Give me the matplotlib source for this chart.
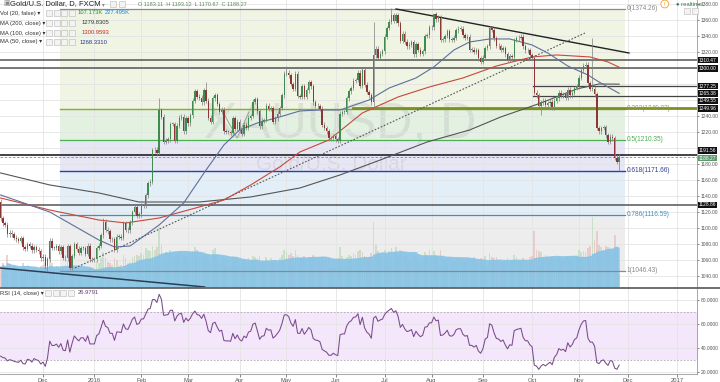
import numpy as np
import pandas as pd
import matplotlib
matplotlib.use("Agg")
import matplotlib.pyplot as plt
from matplotlib.patches import Rectangle
from matplotlib.lines import Line2D

plt.rcParams['font.family'] = ['Liberation Sans', 'DejaVu Sans']

# ---- XAUUSD daily closes, 4 Nov 2015 .. 25 Nov 2016 ----
nov15 = [1112, 1106, 1104, 1092, 1094, 1092, 1088, 1086, 1084, 1087, 1076, 1074, 1080, 1078, 1072, 1076, 1073, 1071, 1062]
dec15 = [1064, 1052, 1061, 1084, 1075, 1075, 1077, 1071, 1076, 1063, 1062, 1077, 1050, 1065, 1080, 1074, 1069, 1075, 1075, 1068, 1078, 1061, 1061]
jan16 = [1061, 1075, 1078, 1091, 1108, 1098, 1096, 1086, 1086, 1073, 1089, 1089, 1088, 1106, 1098, 1097, 1107, 1120, 1126, 1115, 1117]
feb16 = [1128, 1128, 1141, 1156, 1158, 1197, 1198, 1194, 1247, 1239, 1208, 1209, 1211, 1230, 1230, 1209, 1228, 1238, 1239, 1221, 1237]
mar16 = [1231, 1241, 1259, 1271, 1264, 1263, 1257, 1272, 1259, 1238, 1233, 1262, 1266, 1255, 1245, 1248, 1221, 1220, 1220, 1219, 1237, 1224, 1233]
apr16 = [1222, 1218, 1229, 1225, 1238, 1240, 1258, 1261, 1246, 1227, 1234, 1235, 1253, 1249, 1250, 1233, 1237, 1243, 1250, 1266, 1293]
may16 = [1294, 1291, 1280, 1274, 1293, 1265, 1264, 1277, 1264, 1272, 1282, 1277, 1257, 1253, 1252, 1249, 1229, 1225, 1221, 1212, 1212, 1215]
jun16 = [1211, 1209, 1243, 1245, 1245, 1262, 1271, 1275, 1284, 1285, 1294, 1278, 1298, 1279, 1270, 1266, 1257, 1316, 1324, 1313, 1318, 1321]
jul16 = [1339, 1350, 1358, 1366, 1359, 1366, 1356, 1334, 1343, 1333, 1327, 1329, 1332, 1317, 1330, 1323, 1318, 1321, 1340, 1341, 1351]
aug16 = [1351, 1367, 1361, 1363, 1335, 1336, 1340, 1346, 1336, 1335, 1338, 1347, 1349, 1349, 1341, 1338, 1339, 1323, 1323, 1320, 1322, 1312, 1308]
sep16 = [1313, 1325, 1327, 1350, 1348, 1337, 1328, 1327, 1323, 1325, 1317, 1310, 1315, 1314, 1335, 1337, 1338, 1339, 1327, 1322, 1322, 1316]
oct16 = [1313, 1269, 1266, 1253, 1257, 1259, 1254, 1256, 1258, 1251, 1259, 1262, 1269, 1266, 1267, 1263, 1273, 1266, 1269, 1275, 1277]
nov16 = [1288, 1297, 1303, 1304, 1281, 1274, 1274, 1267, 1225, 1221, 1225, 1226, 1216, 1208, 1214, 1212, 1188, 1183.11, 1188.27]
closes = nov15 + dec15 + jan16 + feb16 + mar16 + apr16 + may16 + jun16 + jul16 + aug16 + sep16 + oct16 + nov16

first_open = 1132
last_high, last_low = 1193.12, 1170.67
wick = 3
# bars with long shadows
high_marks = {'2015-11-04': 1136, '2016-01-07': 1112, '2016-02-11': 1263, '2016-03-11': 1283,
              '2016-05-02': 1303, '2016-06-24': 1358, '2016-07-06': 1375, '2016-08-02': 1368,
              '2016-09-06': 1352, '2016-11-09': 1337}
low_marks = {'2015-12-03': 1046.4, '2015-12-17': 1047, '2016-06-24': 1250, '2016-10-07': 1241}

# volume, thousands
vol = ([170, 190, 160, 260, 170, 150, 160, 150, 140, 160, 190, 170, 180, 150, 140, 150, 130, 90, 170]
       + [180, 200, 230, 280, 190, 160, 170, 150, 160, 170, 180, 210, 240, 190, 150, 140, 130, 90, 40, 110, 140, 150, 100]
       + [60, 210, 190, 230, 280, 230, 200, 190, 180, 230, 220, 170, 180, 260, 230, 190, 200, 240, 250, 260, 250]
       + [270, 260, 310, 300, 290, 330, 300, 320, 480, 340, 260, 280, 270, 300, 240, 250, 260, 280, 270, 260, 250]
       + [240, 260, 290, 320, 300, 260, 250, 280, 270, 230, 220, 300, 310, 240, 200, 210, 230, 210, 170, 180, 240, 220, 230]
       + [200, 190, 210, 200, 230, 220, 250, 240, 230, 250, 210, 200, 240, 220, 230, 210, 190, 200, 230, 260, 300]
       + [280, 260, 270, 250, 300, 260, 230, 240, 250, 220, 240, 230, 260, 240, 210, 200, 240, 220, 210, 230, 150, 220]
       + [210, 230, 320, 250, 220, 240, 260, 250, 270, 260, 290, 300, 280, 250, 230, 240, 270, 520, 340, 290, 270, 280]
       + [300, 240, 290, 310, 250, 320, 260, 300, 270, 250, 240, 220, 230, 250, 240, 220, 210, 230, 280, 260, 300]
       + [250, 290, 260, 240, 300, 230, 220, 230, 240, 210, 200, 220, 240, 230, 220, 200, 210, 230, 220, 240, 200, 220, 230]
       + [220, 250, 150, 270, 240, 230, 240, 220, 210, 200, 220, 230, 200, 210, 260, 240, 220, 200, 230, 220, 210, 240]
       + [250, 450, 300, 290, 280, 240, 260, 230, 240, 250, 230, 240, 230, 220, 210, 230, 240, 220, 230, 250, 240]
       + [300, 280, 290, 280, 310, 330, 560, 380, 450, 340, 320, 300, 330, 320, 280, 260, 420, 300, 107.173])

# moving averages (bar index, value) as drawn on the chart
ma50_i = [0, 22, 44, 51, 58, 71, 82, 92, 100, 107, 115, 125, 134, 143, 152, 165, 174, 186, 194, 203, 210, 219, 228, 238, 245, 254, 263, 268, 277]
ma50_v = [1141.3, 1120.0, 1085.0, 1076.3, 1077.5, 1103.8, 1131.3, 1172.5, 1203.8, 1222.5, 1231.3, 1238.8, 1246.3, 1247.5,
          1247.5, 1260.0, 1275.0, 1287.5, 1301.3, 1322.5, 1332.5, 1336.3, 1336.3, 1328.8, 1318.8, 1302.5, 1291.3, 1282.5, 1268.3]
ma100_i = [0, 22, 44, 56, 71, 89, 100, 112, 125, 134, 147, 162, 178, 192, 207, 222, 238, 249, 264, 272, 277]
ma100_v = [1137.5, 1122.5, 1110.0, 1106.3, 1112.5, 1126.3, 1135.0, 1153.8, 1176.3, 1195.0, 1210.0, 1243.8, 1263.8, 1276.3,
           1287.5, 1302.5, 1313.8, 1316.3, 1313.8, 1307.5, 1301.0]
ma200_i = [0, 22, 44, 62, 89, 112, 134, 152, 170, 191, 210, 224, 242, 258, 268, 277]
ma200_v = [1168.8, 1153.8, 1143.8, 1132.5, 1132.5, 1138.8, 1150.0, 1166.3, 1185.0, 1207.5, 1222.5, 1238.8, 1256.3,
           1273.8, 1280.0, 1279.8]

# drawings
fib_top, fib_bot = 1374.26, 1046.43
fib_ratios = [0, 0.382, 0.5, 0.618, 0.786, 1]
full_levels = [1310.47, 1300.00, 1191.56, 1128.86]
oct_levels = [1277.25, 1265.38]
thick_level = 1249.96
last_close = 1188.27

# ---- derived ----
dates = pd.bdate_range('2015-11-04', '2016-11-25')
n = len(dates)
idx = np.arange(n)
c = np.array(closes, float)
o = np.r_[first_open, c[:-1]]
h = np.maximum(o, c) + wick
l = np.minimum(o, c) - wick
for d, v in high_marks.items():
    h[dates.get_loc(pd.Timestamp(d))] = v
for d, v in low_marks.items():
    l[dates.get_loc(pd.Timestamp(d))] = v
h[-1], l[-1] = last_high, last_low
up = c >= o

# RSI 14 (Wilder)
d = np.diff(np.r_[first_open, c])
ag, al = 4.5, 7.5
rsi = []
for x in d:
    ag = (ag * 13 + max(x, 0)) / 14
    al = (al * 13 + max(-x, 0)) / 14
    rsi.append(100 - 100 / (1 + ag / al))

vol_ma = pd.Series(vol).rolling(20, min_periods=1).mean()

ext = pd.bdate_range('2015-11-04', '2017-01-31')
mpos, mlab = [], []
for i in range(1, len(ext)):
    if ext[i].month != ext[i - 1].month:
        mpos.append(i)
        mlab.append(str(ext[i].year) if ext[i].month == 1 else ext[i].strftime('%b'))

# ---- figure ----
W, H = 720, 382
fig = plt.figure(figsize=(7.2, 3.82), dpi=100)
fig.patch.set_facecolor('white')


def fy(y):
    return 1 - y / H


xlim = (-0.27, 311.86)
ax = fig.add_axes([0, fy(287), 697 / W, 287 / H])
ax.set_xlim(xlim)
ax.set_ylim(1026.25, 1385)
ax_v = ax.twinx()
ax_v.set_ylim(0, 2300)
ax_v.axis('off')
axc = ax.twinx()
axc.set_ylim(ax.get_ylim())
axc.axis('off')
ax.yaxis.tick_right()

grid_c = '#e4e4e4'
yt = np.arange(1040, 1381, 20)
hidden = {1200, 1260, 1280, 1300}  # covered by the level tags
ax.set_xticks(mpos)
ax.set_yticks(yt)
ax.set_yticklabels(['' if v in hidden else '%.2f' % v for v in yt])
ax.grid(True, color=grid_c, lw=0.6)
ax.tick_params(axis='x', length=0, labelbottom=False)
ax.tick_params(axis='y', labelsize=3.5, colors='#555', length=1.5, width=0.5, pad=1)
for s in ['top', 'left', 'bottom']:
    ax.spines[s].set_visible(False)
ax.spines['right'].set_color('#999')
ax.spines['right'].set_linewidth(0.6)

# fibonacci bands
fx0, fx1 = 26.6, 279.6
band_cols = ['#eff5e2', '#e2f1e0', '#e7e6f7', '#e3eff8', '#ededed']
fp = [fib_top - r * (fib_top - fib_bot) for r in fib_ratios]
for k in range(5):
    ax.add_patch(Rectangle((fx0, fp[k + 1]), fx1 - fx0, fp[k] - fp[k + 1], fc=band_cols[k], lw=0, zorder=0))
fib_cols = ['#8a8a8a', '#8fa536', '#4caf50', '#2f3f9e', '#3595c6', '#8a8a8a']
for r, p, col in zip(fib_ratios, fp, fib_cols):
    axc.plot([fx0, fx1], [p, p], color=col, lw=1.0 if r in (0.382, 0.618) else 0.9, zorder=4)
    axc.text(280.3, p, '%g(%.2f)' % (r, p), color=col, fontsize=4.7, va='center', ha='left', zorder=6)

# watermark
ax.text(152, 1228, 'XAUUSD, D', fontsize=36, color='#9a9a9a', alpha=0.2, ha='center', va='center', zorder=0.6)
ax.text(148, 1180, 'Gold/U.S. Dollar', fontsize=15, color='#9a9a9a', alpha=0.2, ha='center', va='center', zorder=0.6)

# volume
ax_v.bar(idx, vol, width=0.75, color=np.where(up, '#b5d8b2', '#e6b5b5'), alpha=0.6, lw=0)
ax_v.fill_between(idx, 0, vol_ma, step='mid', color='#86c3e6', alpha=0.9, lw=0)

# horizontal levels
for p in full_levels:
    axc.axhline(p, color='#111' if p == 1191.56 else '#555', lw=1.1, zorder=4)
for p in oct_levels:
    axc.plot([238.4, xlim[1]], [p, p], color='#444', lw=0.9, zorder=4)
axc.plot([157.8, xlim[1]], [thick_level, thick_level], color='#7c8f28', lw=2.0, zorder=4)
axc.axhline(last_close, color='#888', lw=0.6, ls=(0, (3, 2)), zorder=4)

# trend lines
axc.plot([177.1, 281.4], [1373.75, 1318.75], color='#222', lw=1.0, zorder=5)
axc.plot([33.3, 261.7], [1050, 1343.75], color='#555', lw=0.8, ls=(0, (1.5, 1.5)), zorder=5)
axc.plot([-0.3, 91.3], [1050, 1026.3], color='#2c3e55', lw=1.1, zorder=5)
axc.plot([99.6, 105.9, 111.2], [1245, 1212.5, 1245], color='#a0a0a0', lw=0.7, zorder=4)

# moving averages
axc.plot(ma200_i, ma200_v, color='#555555', lw=0.8, zorder=5)
axc.plot(ma100_i, ma100_v, color='#c9473c', lw=0.8, zorder=5)
axc.plot(ma50_i, ma50_v, color='#5d6f9e', lw=0.8, zorder=5)

# candles
axc.vlines(idx, l, h, colors='#808080', lw=0.5, zorder=6)
axc.bar(idx, np.maximum(np.abs(c - o), 0.7), bottom=np.minimum(o, c), width=0.62,
        color=np.where(up, '#3f8b50', '#8e3535'), lw=0, zorder=7)

# ---- RSI pane ----
ax2 = fig.add_axes([0, fy(374), 697 / W, (374 - 289) / H])
ax2.set_xlim(xlim)
ax2.set_ylim(18.33, 89.17)
ax2.axhspan(30, 70, color='#f4e6fb', lw=0, zorder=0)
ax2.axhline(70, color='#a8a8a8', lw=0.6, ls=(0, (2, 2)))
ax2.axhline(30, color='#a8a8a8', lw=0.6, ls=(0, (2, 2)))
ax2.plot(idx, rsi, color='#7a4a8c', lw=0.75, zorder=3)
ax2.yaxis.tick_right()
ax2.set_yticks([20, 40, 60, 80])
ax2.set_yticklabels(['20.0000', '40.0000', '60.0000', '80.0000'])
ax2.set_xticks(mpos)
ax2.set_xticklabels(mlab)
ax2.grid(True, color=grid_c, lw=0.6)
ax2.tick_params(axis='y', labelsize=3.5, colors='#555', length=1.5, width=0.5, pad=1)
ax2.tick_params(axis='x', labelsize=4.2, colors='#555', length=2, width=0.5, pad=0.8)
for s in ['top', 'left']:
    ax2.spines[s].set_visible(False)
for s in ['right', 'bottom']:
    ax2.spines[s].set_color('#999')
    ax2.spines[s].set_linewidth(0.6)

fig.add_artist(Line2D([0, 1], [fy(288), fy(288)], color='#555', lw=1.2))

# ---- price tags on the right axis ----
tags = [(1310.47, 60), (1300.00, 68.5), (1277.25, 86), (1265.38, 93.5), (1249.55, 101),
        (1249.96, 108.5), (1191.56, 150.5), (1128.86, 205)]
for p, y in tags:
    fig.text(699 / W, fy(y), '%.2f' % p, fontsize=3.5, color='white', va='center', ha='left',
             bbox=dict(boxstyle='square,pad=0.2', fc='#111111', ec='none'))
fig.text(699 / W, fy(158), '%.2f' % last_close, fontsize=3.5, color='white', va='center', ha='left',
         bbox=dict(boxstyle='square,pad=0.2', fc='#5c9a6b', ec='none'))


# ---- legend texts ----
def sq(x, y, s=6):
    fig.add_artist(Rectangle((x / W, fy(y + s / 2)), s / W, s / H, transform=fig.transFigure,
                             fc='#f3f3f3', ec='#c4c4c4', lw=0.5))


def txt(x, y, s, size=4.2, color='#333', **kw):
    fig.text(x / W, fy(y), s, fontsize=size, color=color, va='center', ha='left', **kw)


txt(3, 4, '\u25a3', size=5, color='#888')
txt(10, 4, 'Gold/U.S. Dollar, D, FXCM', size=5.5, color='#222')
txt(102, 4.5, '\u25be', size=4, color='#888')
sq(110, 4)
sq(119, 4)
txt(138, 4, 'O 1183.11  H 1193.12  L 1170.67  C 1188.27', size=4.0, color='#5a8a5a')

rows = [('Vol (20, false)', 13), ('MA (200, close)', 23), ('MA (100, close)', 33), ('MA (50, close)', 42)]
for name, y in rows:
    txt(0, y, name + ' \u25be', size=4.2, color='#333')
    for k in range(4):
        sq(46 + k * 7.5, y)
txt(78, 13, '107.173K', size=4.2, color='#2e8b3e')
txt(105, 13, '227.495K', size=4.2, color='#1e88e5')
txt(82, 23, '1279.8305', size=4.2, color='#333')
txt(82, 33, '1300.9593', size=4.2, color='#c62828')
txt(80, 42, '1268.3310', size=4.2, color='#283593')

txt(0, 293, 'RSI (14, close) \u25be', size=4.2, color='#333')
for k in range(4):
    sq(45 + k * 7.5, 293)
txt(78, 293, '26.9791', size=4.2, color='#6a3d7a')

txt(664, 4, '!', size=4, color='#f0a030',
    bbox=dict(boxstyle='circle,pad=0.25', fc='white', ec='#f0a030', lw=0.6))
txt(676, 4, '\u25cf realtime', size=4.2, color='#2e7d4e')
sq(684, 11)
sq(692, 11)

fig.savefig('out.png', dpi=100)
